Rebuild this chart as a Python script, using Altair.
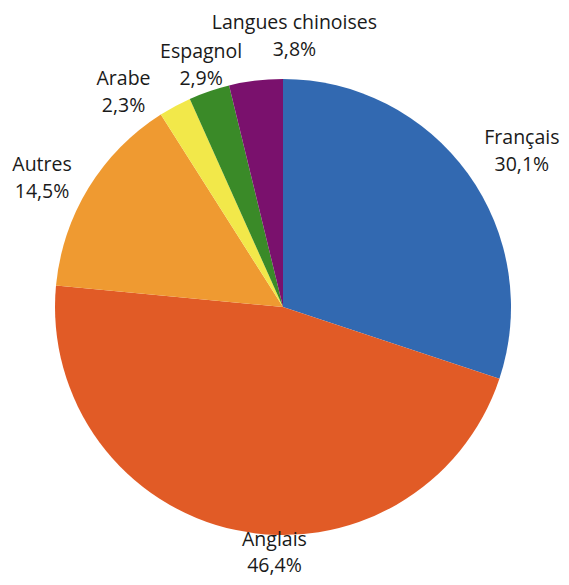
import altair as alt
import pandas as pd

categories = ["Français", "Anglais", "Autres", "Arabe", "Espagnol", "Langues chinoises"]
values = [30.1, 46.4, 14.5, 2.3, 2.9, 3.8]
colors = ["#3269B1", "#E15B26", "#EF9A31", "#F2E84A", "#3A8A28", "#7A116D"]

df = pd.DataFrame({
    "cat": categories,
    "val": values,
    "idx": list(range(len(categories))),
})
df["label"] = df["cat"] + "\n" + df["val"].map(lambda v: f"{v:.1f}".replace(".", ",") + "%")

theta_scale = alt.Scale(domain=[0, 100], range=[0, 6.283185307179586])

pie = alt.Chart(df).mark_arc(outerRadius=228, strokeWidth=0).encode(
    theta=alt.Theta("val:Q", stack=True, scale=theta_scale),
    order=alt.Order("idx:Q"),
    color=alt.Color("cat:N", scale=alt.Scale(domain=categories, range=colors), legend=None),
)

text_base = alt.Chart(df).transform_window(
    cum="sum(val)", sort=[alt.SortField("idx", order="ascending")]
).transform_calculate(
    mid="datum.cum - datum.val / 2"
).encode(
    theta=alt.Theta("mid:Q", stack=None, scale=theta_scale),
    text="label:N",
)

# (dx, dy, line height) nudges for each label block
nudges = {
    "Français": (24, -13.5, 27),
    "Anglais": (46, -26, 26),
    "Autres": (-15, -3.5, 27),
    "Arabe": (-34, 5.5, 27),
    "Espagnol": (4, -4.5, 27),
    "Langues chinoises": (43, -20.5, 27),
}

layers = [pie]
for c in categories:
    dx, dy, lh = nudges[c]
    layers.append(
        text_base.mark_text(
            radius=265, font="Open Sans", fontSize=19.5, color="#1a1a1a",
            lineBreak="\n", lineHeight=lh, align="center", baseline="middle",
            dx=dx, dy=dy,
        ).transform_filter(alt.datum.cat == c)
    )

chart = alt.layer(*layers).properties(
    width=550, height=540,
    autosize="none",
    padding={"top": 29, "left": 0, "right": 3, "bottom": 0},
).configure_view(stroke=None)

chart.save("out.html", embed_options={"renderer": "svg", "actions": False})
